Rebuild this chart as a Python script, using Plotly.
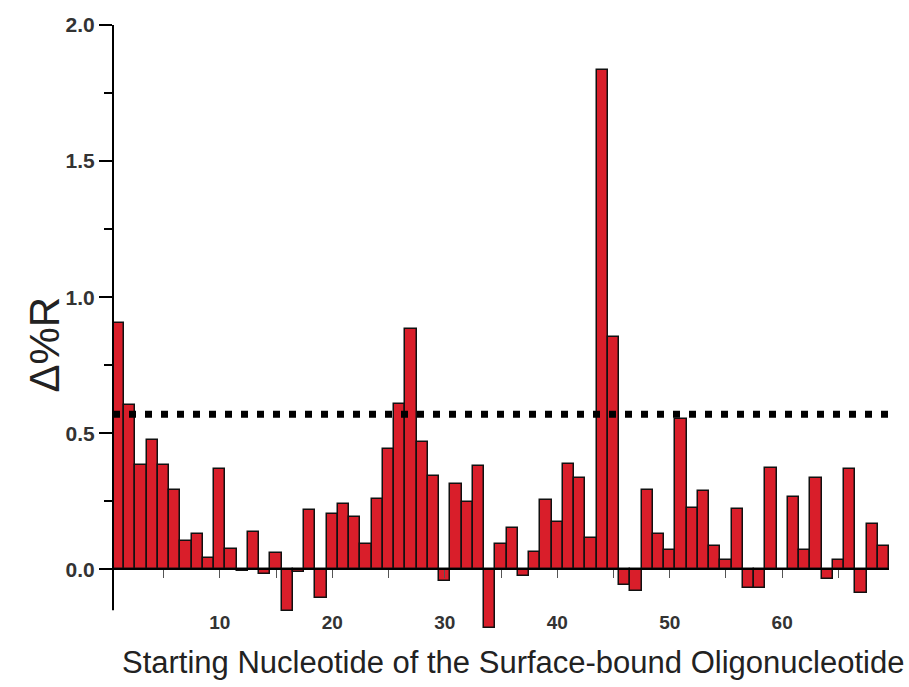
import plotly.graph_objects as go

# Starting nucleotide positions (categories)
positions = list(range(1, 70))
# Delta %R values
delta_r = [
    0.907, 0.603, 0.382, 0.474, 0.382, 0.290, 0.106, 0.131, 0.043, 0.370,
    0.074, -0.005, 0.137, -0.018, 0.062, -0.153, -0.008, 0.217, -0.104, 0.205,
    0.242, 0.193, 0.092, 0.260, 0.441, 0.609, 0.885, 0.468, 0.343, -0.043,
    0.315, 0.246, 0.380, -0.214, 0.092, 0.153, -0.025, 0.064, 0.254, 0.174,
    0.386, 0.337, 0.116, 1.835, 0.854, -0.059, -0.080, 0.290, 0.131, 0.070,
    0.551, 0.227, 0.288, 0.086, 0.033, 0.221, -0.068, -0.068, 0.374, 0.0,
    0.266, 0.070, 0.337, -0.037, 0.033, 0.368, -0.085, 0.165, 0.086,
]
threshold = 0.57
x_tick_vals = [10, 20, 30, 40, 50, 60]
x_tick_text = ["10", "20", "30", "40", "50", "60"]
y_tick_vals = [0.0, 0.5, 1.0, 1.5, 2.0]
y_tick_text = ["0.0", "0.5", "1.0", "1.5", "2.0"]

Y_MIN, Y_MAX = -0.23, 2.0
Y_AXIS_LINE_MIN = -0.15
X_MIN, X_MAX = 0.5, 69.5
zero_pos = (0 - Y_MIN) / (Y_MAX - Y_MIN)

fig = go.Figure()
fig.add_trace(go.Bar(
    x=positions, y=delta_r,
    marker=dict(color="#d91e2a", line=dict(color="#111111", width=1.5)),
    hoverinfo="x+y",
))

# threshold dotted line
fig.add_shape(type="line", xref="paper", yref="y", x0=0, x1=1,
              y0=threshold, y1=threshold,
              line=dict(color="black", width=7, dash="7px,9px"), layer="above")
# vertical y-axis line (stops above the lowest bars, as in the original)
fig.add_shape(type="line", xref="paper", yref="y", x0=0, x1=0,
              y0=Y_AXIS_LINE_MIN, y1=Y_MAX,
              line=dict(color="black", width=2), layer="above")

font_family = "Liberation Sans, Arial, sans-serif"

fig.add_annotation(text="Δ%R", xref="paper", yref="paper",
                   x=-0.088, y=0.473, xanchor="center", yanchor="middle",
                   textangle=-90, showarrow=False,
                   font=dict(family=font_family, size=42, color="#222222"))
fig.add_annotation(text="Starting Nucleotide of the Surface-bound Oligonucleotide",
                   xref="paper", yref="paper", x=0.515, y=-0.051,
                   xanchor="center", yanchor="middle", showarrow=False,
                   font=dict(family=font_family, size=31, color="#222222"))

fig.update_layout(
    width=909, height=687,
    margin=dict(l=113, r=20, t=25, b=55),
    paper_bgcolor="white", plot_bgcolor="white",
    bargap=0, showlegend=False,
    font=dict(family=font_family, color="#222222"),
    xaxis=dict(
        range=[X_MIN, X_MAX], automargin=False,
        anchor="free", position=zero_pos,
        showline=True, linecolor="black", linewidth=2,
        showgrid=False, zeroline=False,
        tickmode="array", tickvals=x_tick_vals, ticktext=x_tick_text,
        ticks="outside", ticklen=8, tickwidth=1, tickcolor="#555555",
        minor=dict(tickmode="linear", tick0=0, dtick=5, ticks="outside",
                   ticklen=8, tickwidth=1, tickcolor="#555555"),
        ticklabelstandoff=28,
        tickfont=dict(family=font_family, size=19, color="#333333", weight="bold"),
    ),
    yaxis=dict(
        range=[Y_MIN, Y_MAX], automargin=False,
        showline=False,
        showgrid=False, zeroline=False,
        tickmode="array", tickvals=y_tick_vals, ticktext=y_tick_text,
        ticks="outside", ticklen=13, tickwidth=2, tickcolor="black",
        minor=dict(tickmode="linear", tick0=0, dtick=0.25, ticks="outside",
                   ticklen=8, tickwidth=2, tickcolor="black"),
        tickfont=dict(family=font_family, size=21, color="#333333", weight="bold"),
    ),
)

# remove the default page margin so the figure sits at the window's top-left corner
fig.write_html("out.html", config={"displayModeBar": False},
               post_script="document.body.style.margin='0';")
